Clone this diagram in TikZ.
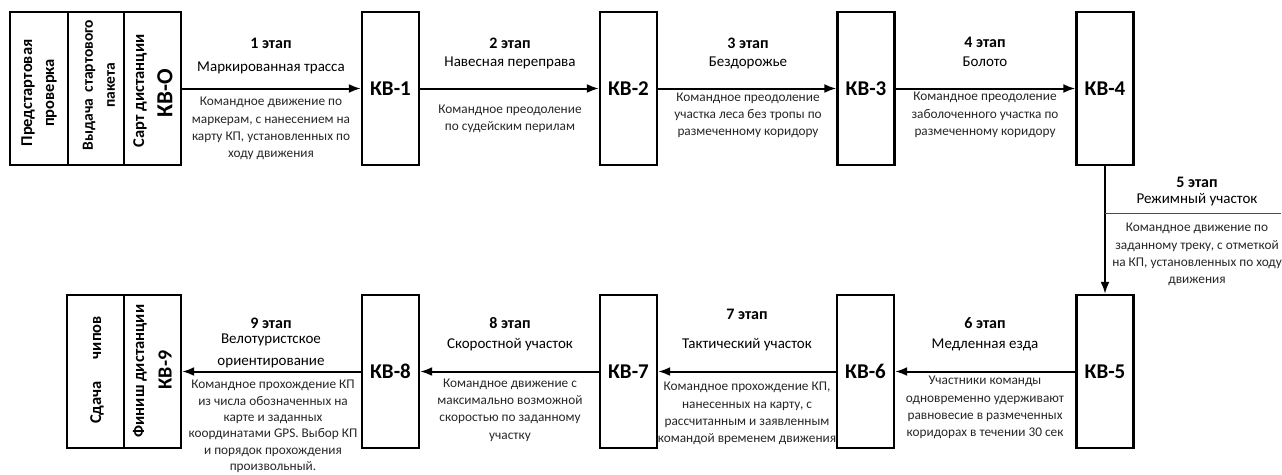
\documentclass[tikz,border=0pt]{standalone}
\usepackage{fontspec}
\setmainfont{Carlito}
\usetikzlibrary{arrows.meta}
\begin{document}
\begin{tikzpicture}[x=1pt,y=-1pt,
  box/.style={draw, line width=2.4pt, minimum height=153pt, inner sep=0pt},
  kv/.style={box, minimum width=57pt, font=\fontsize{21}{24}\selectfont\bfseries},
  rot/.style={rotate=90, align=center, inner sep=0pt, font=\fontsize{16.5}{22}\selectfont\bfseries},
  rotbig/.style={rotate=90, inner sep=0pt, font=\fontsize{23}{26}\selectfont\bfseries},
  ttl/.style={inner sep=0pt, font=\fontsize{16}{18}\selectfont\bfseries},
  nm/.style={inner sep=0pt, align=center, font=\fontsize{15}{22}\selectfont},
  dsc/.style={inner sep=0pt, align=center, text=black!85, font=\fontsize{13.3}{17.3}\selectfont},
  arr/.style={line width=2pt, -{Latex[length=12pt,width=9pt]}},
  thin/.style={line width=0.8pt, draw=black!70}
]
\useasboundingbox (0,0) rectangle (1282,474);
% start group
\node[box, minimum width=58pt] (s1) at (39,88.5) {};
\node[box, minimum width=56pt] (s2) at (96,88.5) {};
\node[box, minimum width=57pt] (s3) at (152.5,88.5) {};
\node[rot] (t1) at (39,93) {Предстартовая\\проверка};
\node[rot, font=\fontsize{15.5}{22}\selectfont\bfseries] (t2) at (99,85) {Выдача\hspace{6pt}стартового\\пакета};
\node[rot] (t3) at (140,91) {Сарт дистанции};
\node[rotbig] (t4) at (165,93) {КВ-О};
% top row
\node[kv] (kv1) at (390.5,88.5) {КВ-1};
\node[kv] (kv2) at (628.5,88.5) {КВ-2};
\node[kv] (kv3) at (866,88.5) {КВ-3};
\node[kv] (kv4) at (1105,88.5) {КВ-4};
% bottom row
\node[kv] (kv5) at (1105,371.5) {КВ-5};
\node[kv] (kv6) at (865.5,371.5) {КВ-6};
\node[kv] (kv7) at (628.5,371.5) {КВ-7};
\node[kv] (kv8) at (390.5,371.5) {КВ-8};
\node[box, minimum width=57pt] (e1) at (95.5,371.5) {};
\node[box, minimum width=57pt] (e2) at (152.5,371.5) {};
\node[rot] (u1) at (97,370) {Сдача\hspace{22pt}чипов};
\node[rot] (u2) at (140,371) {Финиш дистанции};
\node[rotbig, font=\fontsize{20}{24}\selectfont\bfseries] (u3) at (165,370) {КВ-9};
% arrows
\draw[arr] (s3.east) -- (kv1.west);
\draw[arr] (kv1.east) -- (kv2.west);
\draw[arr] (kv2.east) -- (kv3.west);
\draw[arr] (kv3.east) -- (kv4.west);
\draw[arr] (kv4.south) -- (kv5.north);
\draw[arr] (kv5.west) -- (kv6.east);
\draw[arr] (kv6.west) -- (kv7.east);
\draw[arr] (kv7.west) -- (kv8.east);
\draw[arr] (kv8.west) -- (e2.east);
\coordinate (l5a) at (1105,213);
\coordinate (l5b) at (1281,213);
\draw[thin] (l5a) -- (l5b);
% stage 1
\node[ttl] (a1) at (271,43) {1 этап};
\node[nm] (b1) at (271,68) {Маркированная трасса};
\node[dsc] (c1) at (271,128.5) {Командное движение по\\маркерам, с нанесением на\\карту КП, установленных по\\ходу движения};
% stage 2
\node[ttl] (a2) at (510,43) {2 этап};
\node[nm] (b2) at (510,63) {Навесная переправа};
\node[dsc] (c2) at (510,118.5) {Командное преодоление\\по судейским перилам};
% stage 3
\node[ttl] (a3) at (748,43) {3 этап};
\node[nm] (b3) at (748,63) {Бездорожье};
\node[dsc] (c3) at (748,115.5) {Командное преодоление\\участка леса без тропы по\\размеченному коридору};
% stage 4
\node[ttl] (a4) at (985,42) {4 этап};
\node[nm] (b4) at (985,62) {Болото};
\node[dsc] (c4) at (985,115) {Командное преодоление\\заболоченного участка по\\размеченному коридору};
% stage 5
\node[ttl] (a5) at (1197,182) {5 этап};
\node[nm] (b5) at (1197,200) {Режимный участок};
\node[dsc] (c5) at (1197,254.5) {Командное движение по\\заданному треку, с отметкой\\на КП, установленных по ходу\\движения};
% stage 6
\node[ttl] (a6) at (985,323) {6 этап};
\node[nm] (b6) at (985,345) {Медленная езда};
\node[dsc] (c6) at (985,407.5) {Участники команды\\одновременно удерживают\\равновесие в размеченных\\коридорах в течении 30 сек};
% stage 7
\node[ttl] (a7) at (747,314) {7 этап};
\node[nm] (b7) at (747,345) {Тактический участок};
\node[dsc] (c7) at (747,413.5) {Командное прохождение КП,\\нанесенных на карту, с\\рассчитанным и заявленным\\командой временем движения};
% stage 8
\node[ttl] (a8) at (510,323) {8 этап};
\node[nm] (b8) at (510,345) {Скоростной участок};
\node[dsc] (c8) at (510,410) {Командное движение с\\максимально возможной\\скоростью по заданному\\участку};
% stage 9
\node[ttl] (a9) at (271,323) {9 этап};
\node[nm] (b9) at (271,351) {Велотуристское\\ориентирование};
\node[dsc, font=\fontsize{13.3}{16.3}\selectfont] (c9) at (273,426.5) {Командное прохождение КП\\из числа обозначенных на\\карте и заданных\\координатами GPS. Выбор КП\\и порядок прохождения\\произвольный.};
\end{tikzpicture}
\end{document}
